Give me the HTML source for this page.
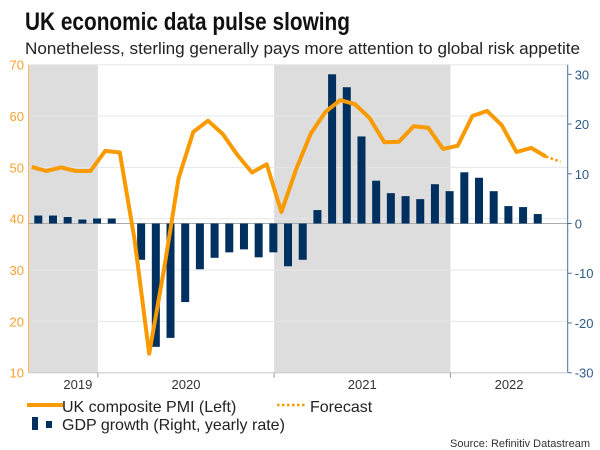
<!DOCTYPE html>
<html><head><meta charset="utf-8"><style>
html,body{margin:0;padding:0;background:#fff}
svg{display:block;font-family:"Liberation Sans",sans-serif}
</style></head><body>
<svg id="chart" width="600" height="450" viewBox="0 0 600 450">
<text x="25" y="30" font-size="25" font-weight="bold" fill="#111" textLength="325" lengthAdjust="spacingAndGlyphs">UK economic data pulse slowing</text>
<text x="25" y="54" font-size="17" fill="#222" textLength="555" lengthAdjust="spacingAndGlyphs">Nonetheless, sterling generally pays more attention to global risk appetite</text>
<g id="plot"></g>
<g>
<line x1="27" y1="405" x2="63" y2="405" stroke="#f89a00" stroke-width="4"/>
<text x="62" y="412" font-size="16" fill="#222">UK composite PMI (Left)</text>
<line x1="277" y1="405" x2="305" y2="405" stroke="#f89a00" stroke-width="2.5" stroke-dasharray="2.5,2.5"/>
<text x="310" y="412" font-size="16" fill="#222">Forecast</text>
<rect x="32" y="417" width="6" height="13" fill="#00305f"/>
<rect x="46" y="421" width="6" height="7" fill="#00305f"/>
<text x="62" y="430" font-size="16" fill="#222">GDP growth (Right, yearly rate)</text>
</g>
<text x="590" y="447" font-size="11" fill="#333" text-anchor="end">Source: Refinitiv Datastream</text>
</svg>
<script>
const pmiValues = [50.1,49.3,50.0,49.3,49.3,53.2,52.9,36.0,13.7,30.0,47.9,56.9,59.1,56.5,52.4,49.0,50.6,41.3,49.6,56.6,60.8,63.1,62.3,59.6,54.9,55.0,58.0,57.7,53.6,54.2,60.0,61.0,58.2,53.0,53.8,52.1];
const forecastValue = 51.1;
const gdpValues = [1.6,1.6,1.3,0.8,1.0,1.0,null,-7.3,-24.8,-23.0,-15.8,-9.2,-6.9,-5.8,-5.2,-6.8,-5.8,-8.6,-7.3,2.7,30.0,27.4,17.5,8.6,6.1,5.5,4.9,7.9,6.5,10.3,9.2,6.5,3.5,3.3,1.9];
const leftTicks = [10,20,30,40,50,60,70];
const rightTicks = [-30,-20,-10,0,10,20,30];
const yearLabels = ["2019","2020","2021","2022"];
const yearStartMonth = [-5,5,17,29];

const NS="http://www.w3.org/2000/svg";
const plot=document.getElementById('plot');
function mk(t,a){const e=document.createElementNS(NS,t);for(const k in a)e.setAttribute(k,a[k]);plot.appendChild(e);return e;}
const X0=28.5,X1=567.7,TOP=64.7,BOT=372.7;
const xm=i=>31.7+i*14.69;
const xb=i=>38.3+i*14.69;
const yl=v=>TOP+(70-v)*(BOT-TOP)/60;
const yr=v=>223.5-v*(372.7-74.3)/60;
const xtick=m=>xm(m)-7.3;

let r=mk('rect',{x:X0,y:TOP,width:xtick(5)-X0,height:BOT-TOP,fill:'#dddddd'});

r=mk('rect',{x:xtick(17),y:TOP,width:xtick(29)-xtick(17),height:BOT-TOP,fill:'#dddddd'});

leftTicks.forEach(v=>{
 const g=mk('line',{x1:X0,x2:X1,y1:yl(v),y2:yl(v),stroke:'#e6e6e6','stroke-width':1});
 
 const t=mk('text',{x:24,y:yl(v)+5,'font-size':13,fill:'#f8a030','text-anchor':'end'});t.textContent=v;
 
});
rightTicks.forEach(v=>{
 const tk=mk('line',{x1:X1,x2:X1+4,y1:yr(v),y2:yr(v),stroke:'#4a6f99'});
 
 const t=mk('text',{x:X1+7,y:yr(v)+5,'font-size':13,fill:'#2f5a8a'});t.textContent=v;
 
});
let z=mk('line',{x1:X0,x2:X1,y1:yr(0),y2:yr(0),stroke:'#aaaaaa','stroke-width':1});

let a=mk('line',{x1:X0,x2:X0,y1:TOP,y2:BOT,stroke:'#f8b860','stroke-width':1});

a=mk('line',{x1:X1,x2:X1,y1:TOP,y2:BOT,stroke:'#4a6f99','stroke-width':1});

a=mk('line',{x1:X0,x2:X1,y1:BOT,y2:BOT,stroke:'#cccccc','stroke-width':1});

yearLabels.forEach((y,k)=>{
 const s=yearStartMonth[k];
 if(k>0){const tk=mk('line',{x1:xtick(s),x2:xtick(s),y1:BOT,y2:BOT+5,stroke:'#999'});
 }
 const lo=Math.max(X0,xtick(s)),hi=Math.min(X1,xtick(s+12));
 const t=mk('text',{x:(lo+hi)/2,y:389,'font-size':13,fill:'#333','text-anchor':'middle'});t.textContent=y;
 
});
gdpValues.forEach((v,i)=>{
 if(v===null)return;
 const y1=yr(Math.max(v,0)),y2=yr(Math.min(v,0));
 const b=mk('rect',{x:xb(i)-4,y:y1,width:8,height:Math.max(y2-y1,0.5),fill:'#00305f'});
 
});
const pts=pmiValues.map((v,i)=>xm(i).toFixed(1)+','+yl(v).toFixed(1)).join(' ');
const pl=mk('polyline',{points:pts,fill:'none',stroke:'#f89a00','stroke-width':4,'stroke-linejoin':'round'});

const n=pmiValues.length-1;
const fc=mk('line',{x1:xm(n),y1:yl(pmiValues[n]),x2:xm(n+1),y2:yl(forecastValue),stroke:'#f89a00','stroke-width':2.5,'stroke-dasharray':'2.5,2.5'});

</script>
</body></html>
